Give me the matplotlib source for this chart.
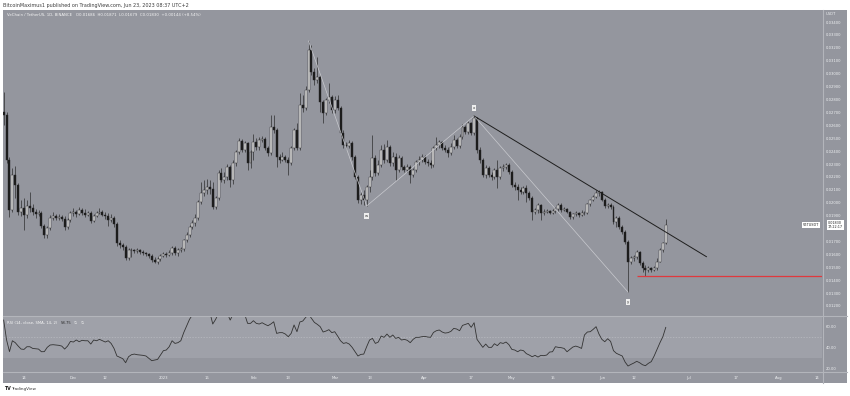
import numpy as np
import pandas as pd
import matplotlib
matplotlib.use("Agg")
import matplotlib.pyplot as plt
import matplotlib.dates as mdates
import matplotlib.transforms as mtrans
from matplotlib.lines import Line2D
from matplotlib.patches import Rectangle

# ---------------- data (VET/USDT daily) ----------------
dates = pd.date_range("2022-11-07", "2023-06-23", freq="D")
first_open = 0.02703

closes = [
    0.02680, 0.02331, 0.01944, 0.02215, 0.02137, 0.01928, 0.01959, 0.01905, 0.01975, 0.01959, 0.01928, 0.01913,
    0.01920, 0.01820, 0.01750, 0.01804, 0.01882, 0.01897, 0.01882, 0.01889, 0.01874, 0.01812, 0.01866, 0.01920,
    0.01928, 0.01913, 0.01944, 0.01920, 0.01905, 0.01920, 0.01859, 0.01897, 0.01920, 0.01928, 0.01905, 0.01897,
    0.01866, 0.01882, 0.01835, 0.01688, 0.01673, 0.01657, 0.01572, 0.01634, 0.01634, 0.01626, 0.01634, 0.01618,
    0.01611, 0.01603, 0.01587, 0.01556, 0.01541, 0.01564, 0.01587,
    0.01603, 0.01595, 0.01611, 0.01649, 0.01611, 0.01634, 0.01642, 0.01711, 0.01750, 0.01812, 0.01843, 0.01882,
    0.02006, 0.02075, 0.02099, 0.02122, 0.02106, 0.01967, 0.02037, 0.02230, 0.02176, 0.02199, 0.02277, 0.02176,
    0.02308, 0.02393, 0.02478, 0.02409, 0.02463, 0.02308, 0.02393,
    0.02471, 0.02432, 0.02486, 0.02494, 0.02424, 0.02385, 0.02587, 0.02564, 0.02354, 0.02331, 0.02354, 0.02331,
    0.02308, 0.02424, 0.02564, 0.02424, 0.02757, 0.02734, 0.02873, 0.03183, 0.03013, 0.02951, 0.02974, 0.02780,
    0.02695, 0.02796, 0.02819, 0.02718,
    0.02796, 0.02734, 0.02540, 0.02447, 0.02440, 0.02463, 0.02354, 0.02199, 0.02021, 0.02060, 0.02021, 0.02122,
    0.02199, 0.02347, 0.02230, 0.02292, 0.02409, 0.02331, 0.02432, 0.02308, 0.02354, 0.02254, 0.02347, 0.02277,
    0.02254, 0.02277, 0.02215, 0.02254, 0.02316, 0.02331, 0.02354,
    0.02316, 0.02308, 0.02292, 0.02424, 0.02447, 0.02471, 0.02424, 0.02409, 0.02385, 0.02432, 0.02486, 0.02440,
    0.02509, 0.02587, 0.02548, 0.02618, 0.02540, 0.02656, 0.02409, 0.02331, 0.02215, 0.02269, 0.02215, 0.02199,
    0.02254, 0.02199, 0.02269, 0.02277, 0.02292, 0.02238,
    0.02137, 0.02122, 0.02099, 0.02083, 0.02114, 0.02075, 0.02037, 0.01928, 0.01944, 0.01982, 0.01920, 0.01928,
    0.01936, 0.01920, 0.01936, 0.01951, 0.01982, 0.01944, 0.01951, 0.01928, 0.01889, 0.01913, 0.01920, 0.01905,
    0.01920, 0.01920, 0.01990, 0.02021, 0.02044, 0.02075, 0.02083,
    0.02021, 0.01975, 0.01982, 0.01967, 0.01851, 0.01882, 0.01812, 0.01773, 0.01696, 0.01541, 0.01572, 0.01580,
    0.01618, 0.01533, 0.01494, 0.01479, 0.01494, 0.01479, 0.01494, 0.01541, 0.01634, 0.01686, 0.01830,
]

highs = [
    0.02858, 0.02703, 0.02354, 0.02269, 0.02285, 0.02153, 0.02021, 0.02037, 0.02021, 0.02083, 0.01990, 0.01951,
    0.01944, 0.01936, 0.01835, 0.01820, 0.01905, 0.01928, 0.01913, 0.01913, 0.01905, 0.01897, 0.01882, 0.01936,
    0.01959, 0.01944, 0.01967, 0.01959, 0.01951, 0.01936, 0.01936, 0.01913, 0.01936, 0.01959, 0.01944, 0.01928,
    0.01920, 0.01913, 0.01897, 0.01851, 0.01711, 0.01688, 0.01673, 0.01649, 0.01649, 0.01642, 0.01649, 0.01642,
    0.01634, 0.01618, 0.01611, 0.01603, 0.01580, 0.01580, 0.01603,
    0.01618, 0.01618, 0.01634, 0.01665, 0.01665, 0.01649, 0.01657, 0.01719, 0.01773, 0.01828, 0.01866, 0.01913,
    0.02021, 0.02161, 0.02176, 0.02184, 0.02176, 0.02161, 0.02052, 0.02254, 0.02269, 0.02238, 0.02300, 0.02292,
    0.02331, 0.02409, 0.02502, 0.02494, 0.02478, 0.02471, 0.02409,
    0.02533, 0.02502, 0.02509, 0.02517, 0.02509, 0.02440, 0.02680, 0.02680, 0.02579, 0.02378, 0.02393, 0.02370,
    0.02354, 0.02440, 0.02579, 0.02618, 0.02850, 0.02835, 0.02904, 0.03253, 0.03222, 0.03044, 0.03129, 0.02990,
    0.02796, 0.02811, 0.02928, 0.02835,
    0.02827, 0.02835, 0.02749, 0.02564, 0.02471, 0.02486, 0.02478, 0.02370, 0.02215, 0.02083, 0.02099, 0.02137,
    0.02254, 0.02525, 0.02370, 0.02331, 0.02447, 0.02455, 0.02486, 0.02447, 0.02393, 0.02385, 0.02370, 0.02362,
    0.02292, 0.02300, 0.02292, 0.02269, 0.02331, 0.02362, 0.02378,
    0.02370, 0.02339, 0.02331, 0.02440, 0.02509, 0.02486, 0.02478, 0.02447, 0.02432, 0.02463, 0.02525, 0.02502,
    0.02533, 0.02610, 0.02602, 0.02633, 0.02625, 0.02672, 0.02664, 0.02432, 0.02347, 0.02292, 0.02285, 0.02238,
    0.02269, 0.02331, 0.02285, 0.02300, 0.02308, 0.02308,
    0.02254, 0.02161, 0.02145, 0.02122, 0.02130, 0.02137, 0.02091, 0.02052, 0.01959, 0.01998, 0.01990, 0.01951,
    0.01951, 0.01944, 0.01951, 0.01967, 0.01998, 0.01998, 0.01967, 0.01959, 0.01936, 0.01920, 0.01936, 0.01928,
    0.01944, 0.01936, 0.01998, 0.02029, 0.02060, 0.02099, 0.02099,
    0.02091, 0.02037, 0.01998, 0.01998, 0.01982, 0.01897, 0.01897, 0.01828, 0.01789, 0.01711, 0.01587, 0.01595,
    0.01634, 0.01626, 0.01549, 0.01518, 0.01510, 0.01502, 0.01510, 0.01572, 0.01649, 0.01696, 0.01871,
]

lows = [
    0.02602, 0.02308, 0.01889, 0.01928, 0.02037, 0.01905, 0.01897, 0.01789, 0.01882, 0.01928, 0.01905, 0.01882,
    0.01897, 0.01804, 0.01727, 0.01727, 0.01789, 0.01866, 0.01866, 0.01866, 0.01859, 0.01789, 0.01797, 0.01851,
    0.01897, 0.01889, 0.01905, 0.01905, 0.01889, 0.01897, 0.01843, 0.01851, 0.01889, 0.01913, 0.01897, 0.01874,
    0.01820, 0.01851, 0.01812, 0.01665, 0.01649, 0.01634, 0.01556, 0.01556, 0.01580, 0.01611, 0.01611, 0.01603,
    0.01595, 0.01587, 0.01572, 0.01541, 0.01533, 0.01525, 0.01549,
    0.01580, 0.01580, 0.01587, 0.01595, 0.01595, 0.01587, 0.01618, 0.01626, 0.01696, 0.01735, 0.01797, 0.01820,
    0.01866, 0.01990, 0.02052, 0.02068, 0.02068, 0.01951, 0.01951, 0.02021, 0.02161, 0.02153, 0.02176, 0.02122,
    0.02145, 0.02285, 0.02378, 0.02393, 0.02393, 0.02254, 0.02269,
    0.02331, 0.02409, 0.02409, 0.02471, 0.02409, 0.02362, 0.02370, 0.02540, 0.02277, 0.02308, 0.02323, 0.02316,
    0.02215, 0.02292, 0.02409, 0.02409, 0.02409, 0.02703, 0.02718, 0.02858, 0.02990, 0.02912, 0.02928, 0.02703,
    0.02618, 0.02680, 0.02773, 0.02695,
    0.02695, 0.02718, 0.02517, 0.02424, 0.02416, 0.02424, 0.02331, 0.02184, 0.01998, 0.01990, 0.01982, 0.01975,
    0.02083, 0.02176, 0.02207, 0.02215, 0.02277, 0.02308, 0.02316, 0.02285, 0.02285, 0.02176, 0.02238, 0.02254,
    0.02238, 0.02238, 0.02153, 0.02199, 0.02238, 0.02292, 0.02316,
    0.02300, 0.02285, 0.02269, 0.02277, 0.02409, 0.02424, 0.02409, 0.02393, 0.02354, 0.02370, 0.02416, 0.02424,
    0.02424, 0.02494, 0.02533, 0.02533, 0.02525, 0.02525, 0.02385, 0.02308, 0.02199, 0.02192, 0.02199, 0.02176,
    0.02184, 0.02114, 0.02184, 0.02246, 0.02261, 0.02223,
    0.02122, 0.02099, 0.02021, 0.02068, 0.02068, 0.02006, 0.02021, 0.01866, 0.01913, 0.01920, 0.01866, 0.01905,
    0.01920, 0.01913, 0.01913, 0.01920, 0.01936, 0.01928, 0.01936, 0.01920, 0.01874, 0.01874, 0.01897, 0.01889,
    0.01897, 0.01905, 0.01913, 0.01975, 0.02013, 0.02037, 0.02052,
    0.02013, 0.01959, 0.01959, 0.01951, 0.01835, 0.01812, 0.01797, 0.01758, 0.01680, 0.01308, 0.01525, 0.01549,
    0.01564, 0.01518, 0.01463, 0.01432, 0.01463, 0.01463, 0.01471, 0.01479, 0.01541, 0.01618, 0.01679,
]

rsi = [
    65.6, 47.0, 36.0, 46.2, 44.4, 41.2, 38.4, 38.1, 40.6, 40.6,
    39.0, 38.7, 38.4, 35.9, 36.0, 40.0, 42.2, 42.5, 42.2, 41.9,
    41.2, 38.4, 41.2, 45.6, 45.0, 46.9, 45.3, 46.6, 46.2, 46.2,
    43.1, 46.9, 46.2, 47.5, 46.2, 45.0, 46.2, 43.7, 39.0, 31.9,
    30.6, 29.4, 25.6, 31.2, 33.1, 33.7, 33.1, 32.8, 32.5, 31.9,
    29.7, 27.5, 28.1, 28.7, 32.8, 36.9, 37.5, 40.6, 46.2, 43.7,
    44.4, 46.2, 53.8, 60.0, 66.3, 70.5, 74.0, 77.0, 79.0, 81.0,
    78.0, 73.0, 61.9, 66.3, 72.0, 75.0, 77.0, 72.0, 65.6, 71.0,
    75.0, 77.0, 74.0, 71.0, 62.5, 62.5, 65.0, 62.5, 61.9, 63.1,
    61.6, 60.3, 61.9, 64.0, 53.1, 53.8, 53.8, 52.5, 50.0, 53.1,
    61.0, 54.7, 63.8, 64.7, 68.1, 71.0, 67.2, 63.4, 61.6, 59.4,
    54.4, 55.3, 56.6, 53.8, 54.7, 50.6, 46.2, 43.7, 44.4, 43.1,
    40.0, 35.9, 31.9, 33.4, 33.7, 40.6, 46.9, 48.4, 43.7, 45.0,
    50.6, 49.4, 52.5, 49.4, 51.6, 48.4, 49.4, 46.9, 47.5, 46.6,
    44.4, 47.5, 49.4, 49.4, 50.0, 50.3, 49.7, 49.4, 54.0, 55.6,
    56.3, 54.4, 53.4, 53.8, 55.0, 57.8, 57.2, 55.6, 60.6, 61.6,
    62.5, 58.8, 63.1, 47.5, 43.7, 40.0, 43.1, 40.0, 40.0, 43.4,
    41.6, 44.4, 43.7, 45.0, 42.5, 38.1, 37.5, 35.9, 37.5, 36.9,
    34.1, 32.8, 31.2, 32.5, 30.9, 32.5, 32.2, 32.8, 35.6, 35.9,
    40.6, 40.0, 39.7, 39.0, 35.9, 38.1, 40.3, 41.2, 40.3, 39.0,
    51.6, 54.4, 54.7, 56.9, 59.4, 52.5, 47.5, 45.3, 48.1, 45.6,
    36.9, 34.4, 33.1, 31.9, 26.2, 22.5, 24.0, 25.3, 26.9, 25.6,
    23.7, 22.8, 25.0, 26.6, 31.9, 38.1, 44.4, 50.0, 58.75,
]

price_ticks = [0.012, 0.013, 0.014, 0.015, 0.016, 0.017, 0.019, 0.020, 0.021, 0.022, 0.023,
               0.024, 0.025, 0.026, 0.027, 0.028, 0.029, 0.030, 0.031, 0.032, 0.033, 0.034]
rsi_ticks = [20, 40, 60]
time_ticks = ["2022-11-14", "2022-12-01", "2022-12-12", "2023-01-01", "2023-01-16", "2023-02-01",
              "2023-02-13", "2023-03-01", "2023-03-13", "2023-04-01", "2023-04-17", "2023-05-01",
              "2023-05-15", "2023-06-01", "2023-06-12", "2023-07-01", "2023-07-17", "2023-08-01",
              "2023-08-14"]
time_labels = ["14", "Dec", "12", "2023", "16", "Feb", "13", "Mar", "13", "Apr", "17", "May",
               "15", "Jun", "12", "Jul", "17", "Aug", "14"]

# wave pivots (w, x, y) and the two drawn lines
wave_dates = ["2023-02-20", "2023-03-12", "2023-04-18", "2023-06-10"]
wave_prices = [0.03253, 0.01975, 0.02672, 0.01308]
wave_labels = ["", "w", "x", "y"]
trend_dates = ["2023-04-18", "2023-07-07"]
trend_prices = [0.02672, 0.01582]
support_level = 0.01432
support_start = "2023-06-13"

# ---------------- figure ----------------
W, H = 850, 396
BG = "#94969e"
BAND = "#9fa1a9"
LIGHT = "#eef0f2"
fig = plt.figure(figsize=(W / 100, H / 100), dpi=100)
fig.patch.set_facecolor("white")


def fx(px):
    return px / W


def fy(py):
    return 1 - py / H


fig.patches.append(Rectangle((fx(3), fy(383)), fx(847) - fx(3), fy(10) - fy(383),
                             transform=fig.transFigure, facecolor=BG, edgecolor="none", zorder=-10))

L, R = 3, 822
ax = fig.add_axes([fx(L), fy(316), fx(R) - fx(L), fy(10) - fy(316)])
ax2 = fig.add_axes([fx(L), fy(371.7), fx(R) - fx(L), fy(316.5) - fy(371.7)])
for a in (ax, ax2):
    a.set_facecolor("none")
    for s in a.spines.values():
        s.set_visible(False)

x = mdates.date2num(dates.values)
c = np.array(closes)
h = np.array(highs)
l = np.array(lows)
o = np.r_[first_open, c[:-1]]
up = c >= o

base = mdates.date2num(np.datetime64("2022-11-14"))
xlim = (base - 7.23, base + 274.8)

# candles
ax.vlines(x, np.minimum(l, np.minimum(o, c)), np.maximum(h, np.maximum(o, c)),
          color="#2e2e2e", linewidth=0.5, zorder=2)
body_h = np.maximum(np.abs(c - o), 0.00003)
ax.bar(x, body_h, bottom=np.minimum(o, c), width=0.68,
       color=np.where(up, "#dedede", "#1a1a1a"), edgecolor="#262626", linewidth=0.3, zorder=3)

# wave lines
wd = mdates.date2num(pd.to_datetime(wave_dates).values)
ax.plot(wd, wave_prices, color="#c9cacf", linewidth=0.5, zorder=4)
td = mdates.date2num(pd.to_datetime(trend_dates).values)
ax.plot(td, trend_prices, color="#1e1e1e", linewidth=0.7, zorder=4)
ax.hlines(support_level, mdates.date2num(np.datetime64(support_start)), xlim[1],
          color="#e0393e", linewidth=0.9, zorder=4)

for d, p, lab in zip(wd, wave_prices, wave_labels):
    if not lab:
        continue
    above = lab == "x"
    ax.annotate(lab, xy=(d, p), xytext=(0, 4.5 if above else -5.5), textcoords="offset points",
                ha="center", va="bottom" if above else "top", fontsize=2.8, color="#333333",
                bbox=dict(boxstyle="square,pad=0.25", fc="#eeeeee", ec="none"), zorder=6)

ax.set_xlim(*xlim)
ax.set_ylim(0.011225, 0.03493)
ax.set_xticks([])
ax.yaxis.tick_right()
ax.set_yticks(price_ticks)
ax.set_yticklabels([f"{t:.5f}" for t in price_ticks])
ax.tick_params(axis="y", length=0, pad=2.9, labelsize=2.7, labelcolor=LIGHT)

# last price labels
tr = mtrans.blended_transform_factory(ax.transAxes, ax.transData)
ax.text(1 - 11.0 / (R - L), closes[-1], "VETUSDT", transform=tr, ha="center", va="center",
        fontsize=2.5, color="#222222", clip_on=False,
        bbox=dict(boxstyle="square,pad=0.3", fc="white", ec="none"), zorder=8)
ax.text(1 + 13.0 / (R - L), closes[-1], "0.01830\n17:22:17", transform=tr, ha="center", va="center",
        fontsize=2.4, color="#222222", clip_on=False, linespacing=1.1,
        bbox=dict(boxstyle="square,pad=0.3", fc="white", ec="none"), zorder=8)

# RSI pane
ax2.axhspan(30, 70, facecolor=BAND, edgecolor="none", zorder=0)
ax2.axhline(50, color="#babcc2", linewidth=0.5, linestyle=(0, (2, 2)), zorder=1)
ax2.plot(x, rsi, color="#333333", linewidth=0.6, zorder=3)
ax2.set_xlim(*xlim)
ax2.set_ylim(17.17, 68.95)
ax2.yaxis.tick_right()
ax2.set_yticks(rsi_ticks)
ax2.set_yticklabels([f"{t:.2f}" for t in rsi_ticks])
ax2.set_xticks(mdates.date2num(pd.to_datetime(time_ticks).values))
ax2.set_xticklabels(time_labels)
ax2.tick_params(axis="both", length=0, labelsize=2.7, labelcolor=LIGHT)
ax2.tick_params(axis="y", pad=2.9)
ax2.tick_params(axis="x", pad=3.2)

# separators
for yy in (316.3, 372.0):
    fig.lines.append(Line2D([fx(3), fx(847)], [fy(yy), fy(yy)], transform=fig.transFigure,
                            color="#b3b5bb", linewidth=0.8))
fig.lines.append(Line2D([fx(822.6), fx(822.6)], [fy(10), fy(383)], transform=fig.transFigure,
                        color="#b3b5bb", linewidth=0.8))

# texts
fig.text(fx(3), fy(5), "BitcoinMaximus1 published on TradingView.com, Jun 23, 2023 08:37 UTC+2",
         fontsize=3.5, color="#3c3c3c", va="center", ha="left")
fig.text(fx(7), fy(15), "VeChain / TetherUS, 1D, BINANCE   O0.01686  H0.01871  L0.01679  C0.01830  +0.00144 (+8.54%)",
         fontsize=2.8, color="#f5f5f5", va="center", ha="left")
fig.text(fx(826), fy(14), "USDT", fontsize=2.7, color=LIGHT, va="center", ha="left")
fig.text(fx(7), fy(322.5), "RSI (14, close, SMA, 14, 2)", fontsize=2.7, color="#f5f5f5",
         va="center", ha="left")
fig.text(fx(61), fy(322.5), "58.75", fontsize=2.7, color="#2a2a2a", va="center", ha="left")
fig.text(fx(74), fy(322.5), "\u2205   \u2205", fontsize=2.7, color="#f5f5f5", va="center", ha="left")
fig.text(fx(4), fy(389), "TV", fontsize=3.4, color="#1e1e1e", va="center", ha="left", weight="bold")
fig.text(fx(11.5), fy(389), "TradingView", fontsize=3.0, color="#333333", va="center", ha="left")

fig.savefig("out.png", dpi=100, facecolor="white")
